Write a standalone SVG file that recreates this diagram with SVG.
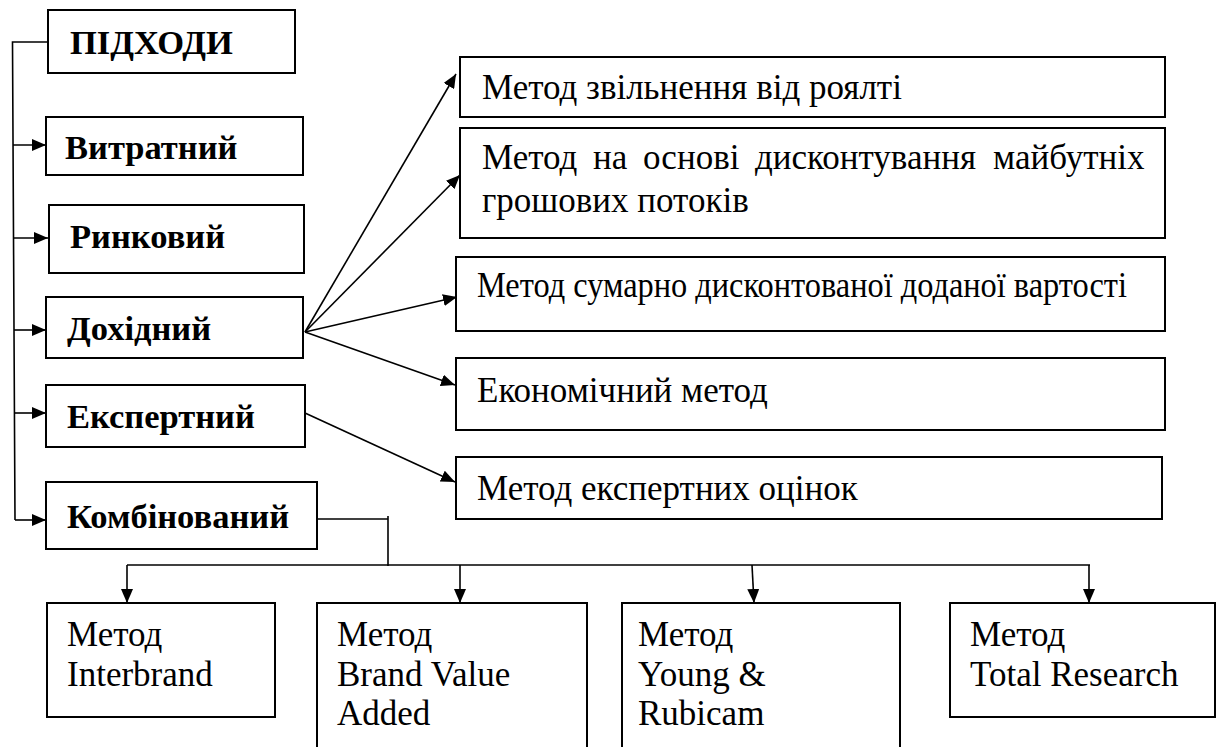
<svg xmlns="http://www.w3.org/2000/svg" width="1221" height="747" viewBox="0 0 1221 747">
<defs>
<marker id="ah" viewBox="0 0 14 12" refX="14" refY="6" markerWidth="14" markerHeight="12" markerUnits="userSpaceOnUse" orient="auto">
<path d="M0,0 L14,6 L0,12 Z" fill="#000"/>
</marker>
<style>
.box{fill:#fff;stroke:#000;stroke-width:2}
.b{font-family:'Liberation Serif','Times New Roman',Times,'DejaVu Serif',serif;font-weight:bold;font-size:34.5px;fill:#000}
.r{font-family:'Liberation Serif','Times New Roman',Times,'DejaVu Serif',serif;font-size:35px;fill:#000}
.ln{fill:none;stroke:#000;stroke-width:1.6}
.ar{fill:none;stroke:#000;stroke-width:1.6;marker-end:url(#ah)}
</style>
</defs>
<rect width="1221" height="747" fill="#fff"/>
<g id="connectors">
<path class="ln" d="M48,42 H12.5 L15,520"/>
<path class="ar" d="M13,145 H46"/>
<path class="ar" d="M13.5,238 H48"/>
<path class="ar" d="M14,330 H46"/>
<path class="ar" d="M14.5,413 H46"/>
<path class="ar" d="M15,520 H46"/>
<path class="ar" d="M305,332 L456,74"/>
<path class="ar" d="M305,332 L460,175"/>
<path class="ar" d="M305,332 L457,297"/>
<path class="ar" d="M305,332 L455,385"/>
<path class="ar" d="M305,413 L455,482"/>
<path class="ln" d="M317,519 H388"/>
<path class="ln" d="M388,516 V566"/>
<path class="ln" d="M127,565 H1090"/>
<path class="ar" d="M127,565 V603"/>
<path class="ar" d="M460,565 V603"/>
<path class="ar" d="M752,565 L754,603"/>
<path class="ar" d="M1089,565 V603"/>
</g>
<g id="n-pidkhody"><rect class="box" x="48" y="10" width="247" height="63"/><text class="b" x="70" y="54">ПІДХОДИ</text></g>
<g id="n-vytratnyi"><rect class="box" x="46" y="117" width="257" height="58"/><text class="b" x="65" y="159">Витратний</text></g>
<g id="n-rynkovyi"><rect class="box" x="49" y="205" width="255" height="68"/><text class="b" x="70" y="248">Ринковий</text></g>
<g id="n-dokhidnyi"><rect class="box" x="46" y="297" width="257" height="61"/><text class="b" x="67" y="340">Дохідний</text></g>
<g id="n-ekspertnyi"><rect class="box" x="46" y="385" width="259" height="62"/><text class="b" x="67" y="428">Експертний</text></g>
<g id="n-kombinovanyi"><rect class="box" x="46" y="482" width="271" height="67"/><text class="b" x="67" y="528">Комбінований</text></g>
<g id="n-royalty"><rect class="box" x="460" y="57" width="705" height="60"/><text class="r" x="482" y="99">Метод звільнення від роялті</text></g>
<g id="n-dcf"><rect class="box" x="460" y="128" width="705" height="110"/><text class="r" y="169"><tspan x="482">Метод</tspan><tspan x="593">на</tspan><tspan x="643">основі</tspan><tspan x="755">дисконтування</tspan><tspan x="993">майбутніх</tspan></text><text class="r" x="482" y="212">грошових потоків</text></g>
<g id="n-sum"><rect class="box" x="456" y="257" width="709" height="74"/><text class="r" x="477" y="297" textLength="650" lengthAdjust="spacingAndGlyphs">Метод сумарно дисконтованої доданої вартості</text></g>
<g id="n-econ"><rect class="box" x="456" y="358" width="709" height="72"/><text class="r" x="477" y="402">Економічний метод</text></g>
<g id="n-expert"><rect class="box" x="456" y="457" width="706" height="62"/><text class="r" x="477" y="500">Метод експертних оцінок</text></g>
<g id="n-interbrand"><rect class="box" x="47" y="603" width="228" height="114"/><text class="r" x="67" y="646">Метод</text><text class="r" x="67" y="686">Interbrand</text></g>
<g id="n-bva"><rect class="box" x="317" y="603" width="270" height="150"/><text class="r" x="337" y="646">Метод</text><text class="r" x="337" y="686">Brand Value</text><text class="r" x="337" y="725">Added</text></g>
<g id="n-young"><rect class="box" x="622" y="603" width="278" height="150"/><text class="r" x="638" y="646">Метод</text><text class="r" x="638" y="686">Young &amp;</text><text class="r" x="638" y="725">Rubicam</text></g>
<g id="n-total"><rect class="box" x="950" y="603" width="265" height="114"/><text class="r" x="970" y="646">Метод</text><text class="r" x="970" y="686">Total Research</text></g>
</svg>
